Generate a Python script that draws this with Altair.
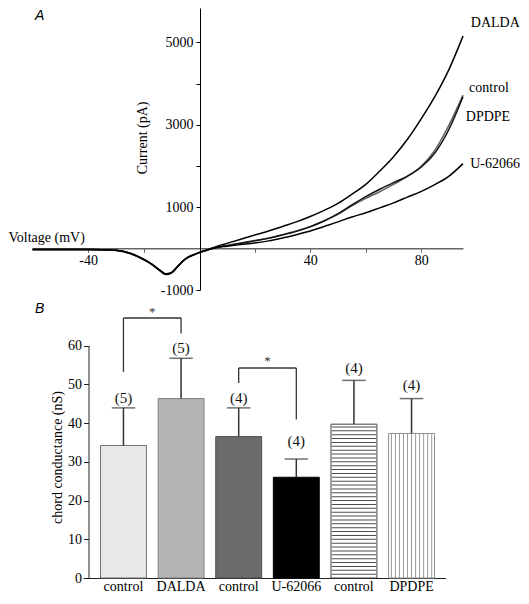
import altair as alt
import pandas as pd

# ---------------- Panel A : current-voltage traces ----------------
V_mV = [-60, -50, -40, -35, -30, -25, -20, -17, -14, -12, -10, -8, -6, -4, -2, 0, 2, 4,
        6, 10, 15, 20, 25, 30, 35, 40, 45, 50, 55, 60, 65, 70, 75, 80, 85, 90, 95]
I_DALDA = [-20, -20, -20, -25, -40, -110, -260, -380, -540, -625, -590, -455, -315, -210, -150, -95, -45, 0,
           50, 130, 230, 330, 430, 540, 650, 780, 930, 1100, 1320, 1560, 1880, 2230, 2650, 3150, 3700, 4350, 5150]
I_control = [-20, -20, -20, -25, -45, -115, -265, -385, -530, -610, -575, -445, -305, -205, -150, -95, -50, -10,
             30, 80, 140, 200, 260, 340, 430, 540, 680, 830, 1040, 1220, 1380, 1560, 1750, 2000, 2400, 3000, 3720]
I_DPDPE = [-20, -20, -20, -25, -40, -105, -255, -375, -525, -605, -580, -450, -305, -205, -145, -95, -50, -10,
           30, 75, 130, 190, 250, 330, 420, 530, 670, 850, 1060, 1260, 1440, 1600, 1760, 1980, 2330, 2900, 3680]
I_U62066 = [-20, -20, -20, -25, -40, -110, -260, -380, -535, -620, -585, -450, -310, -210, -150, -95, -50, -10,
            25, 60, 100, 140, 190, 260, 340, 430, 540, 650, 770, 870, 990, 1110, 1250, 1390, 1560, 1760, 2060]

series_names = ["DALDA", "control", "DPDPE", "U-62066"]
series_values = [I_DALDA, I_control, I_DPDPE, I_U62066]
series_colors = ["#000000", "#606060", "#111111", "#000000"]
label_V = [97.8, 97.2, 96.0, 97.6]
label_I = [5460, 3900, 3180, 2060]

# ---------------- Panel B : chord conductance ----------------
bar_keys = ["control_1", "DALDA", "control_2", "U-62066", "control_3", "DPDPE"]
bar_mean = [34.2, 46.3, 36.5, 26.0, 39.7, 37.3]
bar_err = [43.9, 56.7, 43.9, 30.7, 51.0, 46.3]
n_text = ["(5)", "(5)", "(4)", "(4)", "(4)", "(4)"]
n_y = [46.5, 59.4, 46.5, 35.4, 54.3, 49.7]
bar_fill = ["#e8e8e8", "#b3b3b3", "#6b6b6b", "#000000", "#ffffff", "#ffffff"]
bar_stroke = ["#707070", "#808080", "#505050", "#000000", "#404040", "#909090"]

# significance brackets: vertical legs (bar, bottom, top), horizontal tops (from, to, level)
leg_key = ["control_1", "DALDA", "control_2", "U-62066"]
leg_lo = [53.2, 63.1, 50.3, 40.9]
leg_hi = [67.1, 67.1, 54.2, 54.2]
top_from = ["control_1", "control_2"]
top_to = ["DALDA", "U-62066"]
top_level = [67.1, 54.2]
star_key = ["control_1", "control_2"]
star_y = [67.6, 54.9]

SERIF = "Liberation Serif"
W, H = 513, 584

# ---------------- build tables ----------------
rows = []
for name, vals in zip(series_names, series_values):
    for v, i in zip(V_mV, vals):
        rows.append({"series": name, "V": v, "I": i})
dfA = pd.DataFrame(rows)
dfA_lab = pd.DataFrame({"series": series_names, "V": label_V, "I": label_I})

dfB = pd.DataFrame({"key": bar_keys, "mean": bar_mean, "err": bar_err,
                    "n": n_text, "ny": n_y})

# ---------------- Panel A ----------------
xA = alt.Scale(domain=[-60, 95], range=[24.5, 455], nice=False, zero=False)
yA = alt.Scale(domain=[-1000, 5830], range=[282, 0], nice=False, zero=False)
axA_x = alt.Axis(orient="bottom", offset=240.3 - H, title="Voltage (mV)",
                 values=[-40, -20, 20, 40, 60, 80],
                 labelExpr="datum.value % 40 === 0 ? '' + datum.value : ''",
                 tickSize=4, labelPadding=1, domainColor="#666666", domainWidth=1.5,
                 tickColor="#666666", titleX=0, titleY=-10.8, titleAlign="left",
                 titleBaseline="middle", titleAngle=0, labelFlush=False,
                 labelFont=SERIF, titleFont=SERIF, labelFontSize=14, titleFontSize=14)
axA_y = alt.Axis(orient="left", offset=-192, title="Current (pA)",
                 values=[-1000, 1000, 2000, 3000, 4000, 5000],
                 labelExpr="datum.value % 2000 !== 0 ? '' + datum.value : ''",
                 tickSize=4, labelPadding=3, titleX=-57.5, titleY=129.4,
                 titleAngle=-90, titleBaseline="middle", titleAlign="center",
                 labelFlush=False, labelFont=SERIF, titleFont=SERIF,
                 labelFontSize=14, titleFontSize=14)

lines = alt.Chart(dfA).mark_line(strokeWidth=1.5, strokeJoin="round",
                                 interpolate="monotone").encode(
    x=alt.X("V:Q", scale=xA, axis=axA_x),
    y=alt.Y("I:Q", scale=yA, axis=axA_y),
    color=alt.Color("series:N", scale=alt.Scale(domain=series_names, range=series_colors), legend=None),
    order=alt.Order("V:Q"),
)
labelsA = alt.Chart(dfA_lab).mark_text(align="left", baseline="middle", font=SERIF,
                                       fontSize=14, fill="#000000").encode(
    x=alt.X("V:Q", scale=xA, axis=axA_x),
    y=alt.Y("I:Q", scale=yA, axis=axA_y),
    text="series:N",
)
letterA = alt.Chart(pd.DataFrame({"t": ["A"]})).mark_text(
    align="left", baseline="middle", font="Liberation Sans", fontStyle="italic",
    fontSize=14, fill="#000000").encode(x=alt.value(27), y=alt.value(7.5), text="t:N")

panelA = alt.layer(lines, labelsA, letterA)

# ---------------- Panel B ----------------
xB = alt.Scale(domain=bar_keys, range=[75, 437.6], paddingInner=0.203,
               paddingOuter=0.248, align=0.612)
yB = alt.Scale(domain=[0, 60], range=[570, 337.5], nice=False, zero=False)
axB_x = alt.Axis(orient="bottom", offset=570 - H, title=None, ticks=False, labelPadding=1,
                 labelAngle=0,
                 labelExpr="indexof(datum.label, 'control') === 0 ? 'control' : datum.label",
                 domainColor="#222222", domainWidth=1.2, labelFont=SERIF, labelFontSize=14)
axB_y = alt.Axis(orient="left", offset=-80.5, title="chord conductance (nS)",
                 values=[0, 10, 20, 30, 40, 50, 60], tickSize=5, labelPadding=2,
                 titleX=-31.5, titleY=449, titleAngle=-90, titleBaseline="middle",
                 titleAlign="center", domainColor="#222222", tickColor="#222222",
                 labelFlush=False, labelFont=SERIF, titleFont=SERIF,
                 labelFontSize=14, titleFontSize=14)

bars = alt.Chart(dfB).mark_bar(strokeWidth=1).encode(
    x=alt.X("key:N", scale=xB, axis=axB_x, sort=bar_keys),
    y=alt.Y("mean:Q", scale=yB, axis=axB_y),
    fill=alt.Fill("key:N", scale=alt.Scale(domain=bar_keys, range=bar_fill), legend=None),
    stroke=alt.Stroke("key:N", scale=alt.Scale(domain=bar_keys, range=bar_stroke), legend=None),
)

# horizontal stripes (second control) and vertical stripes (DPDPE)
h_df = pd.DataFrame({"key": "control_3",
                     "mean": [s for s in range(1, 40)]})
h_stripes = alt.Chart(h_df).mark_tick(orient="horizontal", size=44, thickness=1,
                                      color="#000000").encode(
    x=alt.X("key:N", scale=xB, axis=axB_x, sort=bar_keys),
    y=alt.Y("mean:Q", scale=yB, axis=axB_y),
)
v_df = pd.DataFrame({"key": "DPDPE", "k": list(range(11)),
                     "lo": 0.0, "mean": bar_mean[5]})
v_stripes = alt.Chart(v_df).mark_rule(color="#9a9a9a", strokeWidth=1).encode(
    x=alt.X("key:N", scale=xB, axis=axB_x, sort=bar_keys),
    xOffset=alt.XOffset("k:N", scale=alt.Scale(paddingInner=0, paddingOuter=0.2)),
    y=alt.Y("lo:Q", scale=yB, axis=axB_y),
    y2="mean:Q",
)

err_rule = alt.Chart(dfB).mark_rule(color="#333333", strokeWidth=1.5).encode(
    x=alt.X("key:N", scale=xB, axis=axB_x, sort=bar_keys),
    y=alt.Y("mean:Q", scale=yB, axis=axB_y),
    y2="err:Q",
)
err_cap = alt.Chart(dfB).mark_tick(orient="horizontal", size=23.5, thickness=1.5,
                                   color="#333333").encode(
    x=alt.X("key:N", scale=xB, axis=axB_x, sort=bar_keys),
    y=alt.Y("err:Q", scale=yB, axis=axB_y),
)
n_lab = alt.Chart(dfB).mark_text(font=SERIF, fontSize=15, baseline="middle",
                                 fill="#111111").encode(
    x=alt.X("key:N", scale=xB, axis=axB_x, sort=bar_keys),
    y=alt.Y("ny:Q", scale=yB, axis=axB_y),
    text="n:N",
)

legs = alt.Chart(pd.DataFrame({"key": leg_key, "lo": leg_lo, "hi": leg_hi})).mark_rule(
    color="#333333", strokeWidth=1.3).encode(
    x=alt.X("key:N", scale=xB, axis=axB_x, sort=bar_keys),
    y=alt.Y("lo:Q", scale=yB, axis=axB_y),
    y2="hi:Q",
)
tops = alt.Chart(pd.DataFrame({"key": top_from, "key2": top_to, "lvl": top_level})).mark_rule(
    color="#333333", strokeWidth=1.3).encode(
    x=alt.X("key:N", scale=xB, axis=axB_x, sort=bar_keys),
    x2="key2:N",
    y=alt.Y("lvl:Q", scale=yB, axis=axB_y),
)
stars = alt.Chart(pd.DataFrame({"key": star_key, "sy": star_y, "s": ["*", "*"]})).mark_text(
    font=SERIF, fontSize=13, baseline="alphabetic", dx=28.8, fill="#333333").encode(
    x=alt.X("key:N", scale=xB, axis=axB_x, sort=bar_keys),
    y=alt.Y("sy:Q", scale=yB, axis=axB_y),
    text="s:N",
)
letterB = alt.Chart(pd.DataFrame({"t": ["B"]})).mark_text(
    align="left", baseline="middle", font="Liberation Sans", fontStyle="italic",
    fontSize=14, fill="#000000").encode(x=alt.value(27), y=alt.value(300.7), text="t:N")

panelB = alt.layer(bars, h_stripes, v_stripes, err_rule, err_cap, n_lab,
                   legs, tops, stars, letterB)

chart = alt.layer(panelA, panelB).resolve_scale(
    x="independent", y="independent"
).properties(
    width=W, height=H, autosize=alt.AutoSizeParams(type="none"), padding=0
).configure_view(stroke=None).configure_axis(
    grid=False, labelFont=SERIF, titleFont=SERIF, labelFontSize=14, titleFontSize=14,
    titleFontWeight="normal", labelColor="black", titleColor="black",
    domainColor="black", tickColor="black", labelOverlap=False, labelBound=False,
)

chart.save("out.html", embed_options={"renderer": "svg", "actions": False})
